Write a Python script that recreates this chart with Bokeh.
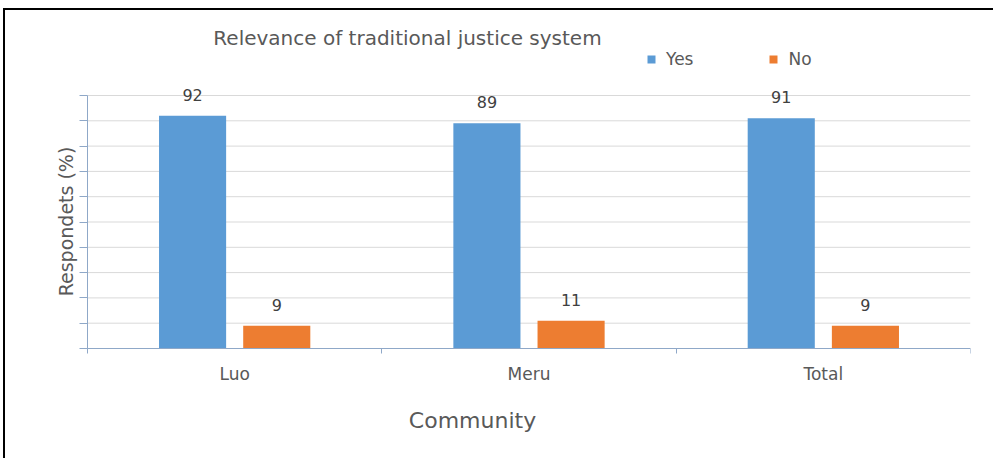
import numpy as np
from bokeh.plotting import figure
from bokeh.layouts import column
from bokeh.models import (ColumnDataSource, FixedTicker, Range1d, Legend, LegendItem,
                          Label)
from bokeh.transform import dodge
from bokeh.core.properties import value
from bokeh.embed import file_html
from bokeh.resources import INLINE

categories = ["Luo", "Meru", "Total"]
yes_values = [92, 89, 91]
no_values = [9, 11, 9]
y_ticks = list(range(0, 101, 10))

FONT = "DejaVu Sans"
BLUE = "#5B9BD5"
ORANGE = "#ED7D31"
AXIS = "#8FA8C8"
GRID = "#D9D9D9"
TXT = "#595959"

n = len(categories)
pos = np.arange(n) + 0.5
src = ColumnDataSource(dict(x=pos, yes=yes_values, no=no_values,
                            yes_lbl=[str(v) for v in yes_values],
                            no_lbl=[str(v) for v in no_values]))
grid_src = ColumnDataSource(dict(y=y_ticks, x0=[0] * len(y_ticks), x1=[n] * len(y_ticks)))

# frame spans page x 5..970 and y 10..458; the chart's axes are fixed inside it
p = figure(output_backend="svg", toolbar_location=None,
           frame_width=965, frame_height=448,
           min_border_left=0, min_border_right=23,
           min_border_top=0, min_border_bottom=0,
           x_range=Range1d(-0.2786, n), y_range=Range1d(-43.48, 133.6),
           tools="")
p.outline_line_color = None
p.background_fill_color = "white"
p.border_fill_color = "white"
p.xgrid.grid_line_color = None
p.ygrid.grid_line_color = None

p.segment(x0="x0", x1="x1", y0="y", y1="y", source=grid_src,
          line_color=GRID, line_width=1)

off = 0.143
w = 0.228
r_yes = p.vbar(x=dodge("x", -off), top="yes", width=w, source=src,
               fill_color=BLUE, line_color=None)
r_no = p.vbar(x=dodge("x", off), top="no", width=w, source=src,
              fill_color=ORANGE, line_color=None)

for col, lbl, d in (("yes", "yes_lbl", -off), ("no", "no_lbl", off)):
    p.text(x=dodge("x", d), y=col, text=lbl, source=src,
           text_align="center", text_baseline="middle", y_offset=-21,
           text_font=value(FONT), text_font_size="16px", text_color="#404040")

# x axis, fixed at y = 0
xa = p.xaxis[0]
xa.fixed_location = 0
xa.bounds = (0, n)
xa.ticker = FixedTicker(ticks=list(pos), minor_ticks=list(range(n + 1)))
xa.major_label_overrides = {float(v): c for v, c in zip(pos, categories)}
xa.major_tick_out = 0
xa.major_tick_in = 0
xa.minor_tick_out = 5
xa.minor_tick_in = 0
xa.minor_tick_line_color = AXIS
xa.axis_line_color = AXIS
xa.major_label_standoff = 11
xa.major_label_text_font = FONT
xa.major_label_text_font_size = "17px"
xa.major_label_text_color = TXT

# y axis, fixed at the start of the categories
ya = p.yaxis[0]
ya.fixed_location = 0
ya.ticker = FixedTicker(ticks=y_ticks)
ya.bounds = (0, 100)
ya.major_tick_out = 8
ya.major_tick_in = 0
ya.minor_tick_out = 0
ya.minor_tick_in = 0
ya.major_tick_line_color = AXIS
ya.axis_line_color = AXIS
ya.major_label_overrides = {t: "" for t in y_ticks}
ya.major_label_standoff = 0

ylabel = Label(x=60, y=237, x_units="screen", y_units="screen", angle=np.pi / 2,
               text="Respondets (%)", text_font=FONT, text_font_size="19px",
               text_color=TXT, text_align="center", text_baseline="middle")
p.add_layout(ylabel)

xlabel = Label(x=467, y=38, x_units="screen", y_units="screen",
               text="Community", text_font=FONT, text_font_size="22px",
               text_color=TXT, text_align="center", text_baseline="middle")
p.add_layout(xlabel)

title = Label(x=402, y=421, x_units="screen", y_units="screen",
              text="Relevance of traditional justice system",
              text_font=FONT, text_font_size="20px", text_color=TXT,
              text_align="center", text_baseline="middle")
p.add_layout(title)

legend = Legend(items=[LegendItem(label="Yes", renderers=[r_yes]),
                       LegendItem(label="No", renderers=[r_no])],
                location=(641, 389), orientation="horizontal",
                glyph_width=10, glyph_height=10, label_standoff=10, spacing=75,
                padding=0, margin=0, border_line_color=None,
                background_fill_alpha=0,
                label_text_font=FONT, label_text_font_size="17px",
                label_text_color=TXT)
p.add_layout(legend)

layout = column(p, margin=(8, 0, 0, 3),
                styles={"border-top": "2px solid black", "border-left": "2px solid black"})

open("out.html", "w").write(file_html(layout, INLINE))
